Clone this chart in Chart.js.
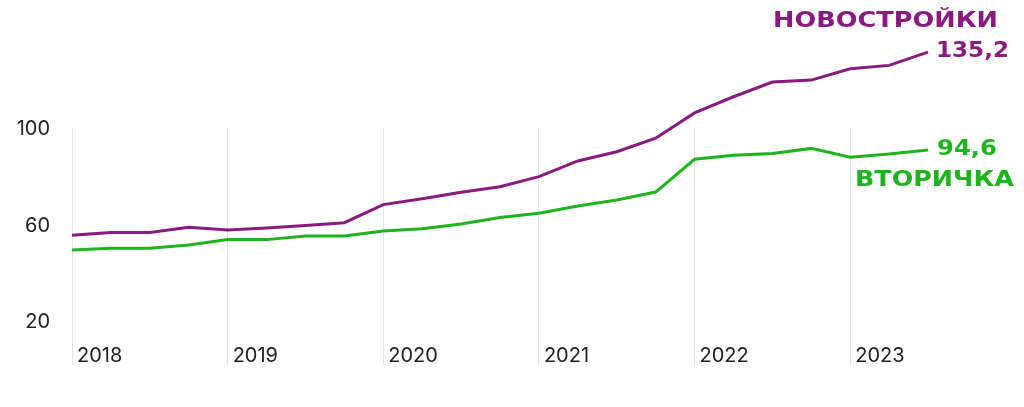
<!DOCTYPE html>
<html>
<head>
<meta charset="utf-8">
<script src="https://cdn.jsdelivr.net/npm/chart.js@4"></script>
<style>
  body { margin: 0; background: #fff; }
</style>
</head>
<body>
<canvas id="chart" width="1024" height="407"></canvas>
<script>
const quarters = [
  "2018 Q1", "2018 Q2", "2018 Q3", "2018 Q4",
  "2019 Q1", "2019 Q2", "2019 Q3", "2019 Q4",
  "2020 Q1", "2020 Q2", "2020 Q3", "2020 Q4",
  "2021 Q1", "2021 Q2", "2021 Q3", "2021 Q4",
  "2022 Q1", "2022 Q2", "2022 Q3", "2022 Q4",
  "2023 Q1", "2023 Q2", "2023 Q3"
];
const newBuild = [59.3, 60.5, 60.5, 62.6, 61.5, 62.3, 63.4, 64.5, 72.0, 74.4, 77.1, 79.4,
  83.6, 90.1, 93.9, 99.5, 110.0, 116.7, 122.8, 123.6, 128.3, 129.7, 135.2];
const resale = [53.2, 53.9, 53.9, 55.3, 57.5, 57.5, 59.0, 59.0, 61.1, 62.0, 64.0, 66.7,
  68.4, 71.4, 73.9, 77.2, 90.8, 92.5, 93.2, 95.3, 91.6, 93.0, 94.6];
const yTicks = [20, 60, 100];
const seriesNames = ["НОВОСТРОЙКИ", "ВТОРИЧКА"];
const endLabels = ["135,2", "94,6"];

const PURPLE = "#8a1a80";
const GREEN = "#1db41d";

// draw text squeezed/stretched to a given width (the original uses a wide display font)
function fitText(ctx, text, x, y, width, align) {
  const w = ctx.measureText(text).width;
  const sx = width / w;
  ctx.save();
  const left = align === "right" ? x - width : x;
  ctx.translate(left, y);
  ctx.scale(sx, 1);
  ctx.textAlign = "left";
  ctx.fillText(text, 0, 0);
  ctx.restore();
}

const endLabelPlugin = {
  id: "endLabels",
  afterDatasetsDraw(chart) {
    const ctx = chart.ctx;
    const p = chart.getDatasetMeta(0).data.at(-1);
    const g = chart.getDatasetMeta(1).data.at(-1);
    ctx.save();
    ctx.textBaseline = "middle";
    ctx.font = "bold 21px 'DejaVu Sans'";
    ctx.fillStyle = PURPLE;
    fitText(ctx, endLabels[0], p.x + 8, p.y - 1, 73, "left");
    fitText(ctx, seriesNames[0], p.x + 70, p.y - 31, 225, "right");
    ctx.fillStyle = GREEN;
    fitText(ctx, endLabels[1], g.x + 9, g.y - 1, 60, "left");
    fitText(ctx, seriesNames[1], g.x + 86, g.y + 30, 159, "right");
    ctx.restore();
  }
};

new Chart(document.getElementById("chart"), {
  type: "line",
  data: {
    labels: quarters,
    datasets: [
      {
        label: seriesNames[0],
        data: newBuild,
        borderColor: PURPLE,
        borderWidth: 3,
        pointRadius: 0,
        tension: 0,
        clip: false,
      },
      {
        label: seriesNames[1],
        data: resale,
        borderColor: GREEN,
        borderWidth: 3,
        pointRadius: 0,
        tension: 0,
        clip: false,
      },
    ],
  },
  options: {
    responsive: false,
    animation: false,
    layout: {
      padding: { top: 128, right: 96, left: 0, bottom: 0 },
    },
    scales: {
      x: {
        offset: false,
        border: { display: false },
        grid: {
          drawTicks: false,
          color: (c) => (c.index % 4 === 0 ? "#e4e4e4" : "rgba(0,0,0,0)"),
        },
        ticks: {
          autoSkip: false,
          maxRotation: 0,
          mirror: true,
          align: "start",
          labelOffset: 5,
          padding: -3,
          color: "#222",
          font: { family: "Inter", size: 20 },
          callback: (v, i) => (i % 4 === 0 ? quarters[i].slice(0, 4) : ""),
        },
        afterFit: (s) => { s.height = 42; },
      },
      y: {
        min: 5.55,
        max: 103.75,
        border: { display: false },
        grid: { display: false, drawTicks: false },
        afterBuildTicks: (s) => { s.ticks = yTicks.map((v) => ({ value: v })); },
        ticks: {
          padding: 22,
          labelOffset: -8,
          color: "#222",
          font: { family: "Inter", size: 20 },
        },
        afterFit: (s) => { s.width = 72; },
      },
    },
    plugins: {
      legend: { display: false },
      tooltip: { enabled: false },
    },
  },
  plugins: [endLabelPlugin],
});
</script>
</body>
</html>
